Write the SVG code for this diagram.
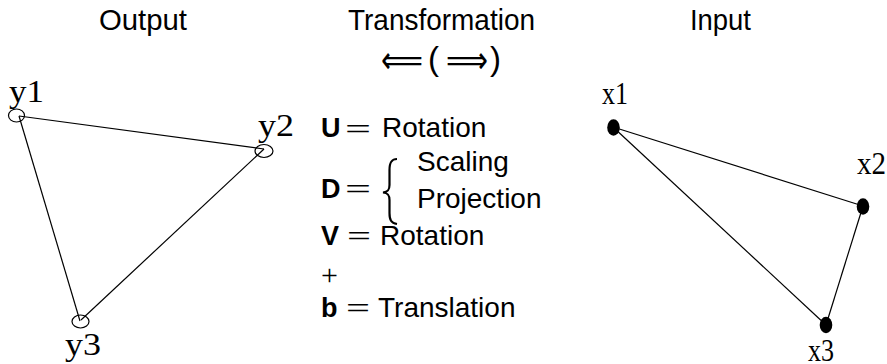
<svg xmlns="http://www.w3.org/2000/svg" width="887" height="364" viewBox="0 0 887 364">
  <style>
    .title { font-family: "Liberation Sans", Arial, sans-serif; font-size: 30px; fill: #000; }
    .lbl { font-family: "Liberation Serif", "Times New Roman", serif; font-size: 31px; fill: #000; }
    .txt { font-family: "Liberation Sans", Arial, sans-serif; font-size: 28px; fill: #000; }
    .bold { font-family: "Liberation Sans", Arial, sans-serif; font-size: 27px; font-weight: bold; fill: #000; }
    .math { font-family: "Liberation Serif", "Times New Roman", serif; font-size: 30px; fill: #000; }
    .paren { font-family: "Liberation Sans", Arial, sans-serif; font-size: 33px; }
    .arrow { font-family: "DejaVu Sans", sans-serif; font-size: 38px; }
    .edge { stroke: #000; stroke-width: 1.2; fill: none; }
    .hollow { stroke: #000; stroke-width: 1.2; fill: none; }
    .solid { fill: #000; stroke: none; }
  </style>

  <!-- column headings -->
  <g id="headings">
    <text class="title" x="99" y="30" textLength="88" lengthAdjust="spacingAndGlyphs">Output</text>
    <text class="title" x="348" y="30" textLength="187" lengthAdjust="spacingAndGlyphs">Transformation</text>
    <text class="title" x="690" y="30" textLength="61" lengthAdjust="spacingAndGlyphs">Input</text>
  </g>

  <!-- direction arrows under the middle heading -->
  <g id="direction">
    <text y="73" fill="#000"><tspan class="arrow" x="381" textLength="42" lengthAdjust="spacingAndGlyphs">⟸</tspan><tspan class="paren" x="428" y="70">(</tspan><tspan class="arrow" x="446" y="73" textLength="42" lengthAdjust="spacingAndGlyphs">⟹</tspan><tspan class="paren" x="490" y="70">)</tspan></text>
  </g>

  <!-- decomposition of the transformation -->
  <g id="equations">
    <text class="bold" x="321" y="137">U</text>
    <text class="math" x="345" y="139" textLength="26" lengthAdjust="spacingAndGlyphs">=</text>
    <text class="txt" x="382" y="137">Rotation</text>

    <text class="bold" x="321" y="198">D</text>
    <text class="math" x="345" y="199" textLength="26" lengthAdjust="spacingAndGlyphs">=</text>
    <path d="M397,159 C391,159 389.5,163 389.5,170 L389.5,185 C389.5,190 388,192 383,192.5 C388,193 389.5,195 389.5,200 L389.5,213 C389.5,220 391,223 397,224" stroke="#000" stroke-width="2.2" fill="none"/>
    <text class="txt" x="417" y="171">Scaling</text>
    <text class="txt" x="417" y="208">Projection</text>

    <text class="bold" x="321" y="245">V</text>
    <text class="math" x="347" y="246" textLength="24" lengthAdjust="spacingAndGlyphs">=</text>
    <text class="txt" x="380" y="245">Rotation</text>

    <text class="math" x="321" y="285" font-size="36">+</text>

    <text class="bold" x="321" y="317">b</text>
    <text class="math" x="346" y="318" textLength="24" lengthAdjust="spacingAndGlyphs">=</text>
    <text class="txt" x="378" y="317">Translation</text>
  </g>

  <!-- triangle edges -->
  <g id="connectors">
    <line class="edge" x1="19" y1="116" x2="264" y2="149"/>
    <line class="edge" x1="19" y1="116" x2="80" y2="321"/>
    <line class="edge" x1="264" y1="149" x2="81" y2="320"/>
    <line class="edge" x1="613" y1="127" x2="863" y2="206"/>
    <line class="edge" x1="613" y1="127" x2="826" y2="325"/>
    <line class="edge" x1="863" y1="206" x2="826" y2="325"/>
  </g>

  <!-- output points -->
  <g id="y1">
    <ellipse class="hollow" cx="16.5" cy="115.5" rx="8" ry="6.5"/>
    <text class="lbl" x="9" y="102" textLength="35" lengthAdjust="spacingAndGlyphs">y1</text>
  </g>
  <g id="y2">
    <ellipse class="hollow" cx="264" cy="151" rx="9" ry="6.5"/>
    <text class="lbl" x="258" y="136" textLength="36" lengthAdjust="spacingAndGlyphs">y2</text>
  </g>
  <g id="y3">
    <ellipse class="hollow" cx="80.5" cy="321.5" rx="8.5" ry="6.5"/>
    <text class="lbl" x="65" y="355" textLength="36" lengthAdjust="spacingAndGlyphs">y3</text>
  </g>

  <!-- input points -->
  <g id="x1">
    <ellipse class="solid" cx="613.5" cy="127.5" rx="6.3" ry="8.3"/>
    <text class="lbl" x="602" y="104" textLength="26" lengthAdjust="spacingAndGlyphs">x1</text>
  </g>
  <g id="x2">
    <ellipse class="solid" cx="863" cy="206.5" rx="6.3" ry="8.3"/>
    <text class="lbl" x="857" y="174" textLength="29" lengthAdjust="spacingAndGlyphs">x2</text>
  </g>
  <g id="x3">
    <ellipse class="solid" cx="826" cy="325" rx="6.3" ry="8.3"/>
    <text class="lbl" x="808" y="361" textLength="26" lengthAdjust="spacingAndGlyphs">x3</text>
  </g>
</svg>
